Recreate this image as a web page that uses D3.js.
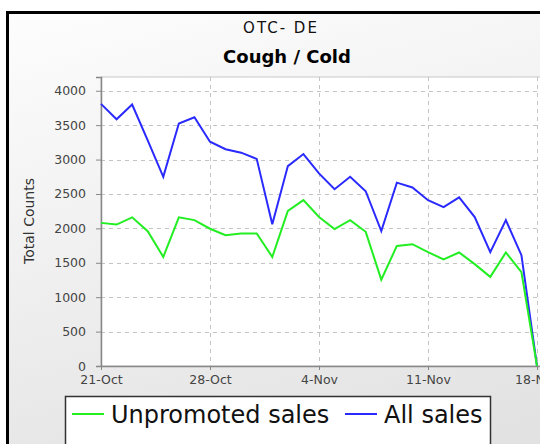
<!DOCTYPE html>
<html>
<head>
<meta charset="utf-8">
<script src="https://cdn.jsdelivr.net/npm/d3@7"></script>
<style>
  body { margin: 0; background: #fff; }
  svg { display: block; font-family: "DejaVu Sans", sans-serif; }
</style>
</head>
<body>
<div id="chart"></div>
<script>
// daily counts, 21-Oct .. 18-Nov
var dates = ["21-Oct","22-Oct","23-Oct","24-Oct","25-Oct","26-Oct","27-Oct","28-Oct","29-Oct","30-Oct","31-Oct",
  "1-Nov","2-Nov","3-Nov","4-Nov","5-Nov","6-Nov","7-Nov","8-Nov","9-Nov","10-Nov","11-Nov","12-Nov","13-Nov",
  "14-Nov","15-Nov","16-Nov","17-Nov","18-Nov"];
var unpromoted = [2080, 2055, 2160, 1960, 1585, 2160, 2120, 1995, 1900, 1925, 1925, 1585, 2255, 2410,
  2165, 1990, 2120, 1950, 1255, 1745, 1770, 1655, 1550, 1650, 1480, 1295, 1650, 1365, 0];
var allSales = [3810, 3585, 3800, 3280, 2750, 3525, 3615, 3260, 3150, 3100, 3010, 2060, 2905, 3080,
  2800, 2570, 2750, 2540, 1960, 2665, 2595, 2410, 2310, 2450, 2165, 1655, 2120, 1610, 0];
var xTicks = ["21-Oct", "28-Oct", "4-Nov", "11-Nov", "18-Nov"];
var yTicks = [0, 500, 1000, 1500, 2000, 2500, 3000, 3500, 4000];

var parse = d3.timeParse("%d-%b-%Y");
var toDate = function (s) { return parse(s + "-2009"); };

var width = 540, height = 444;
var svg = d3.select("#chart").append("svg")
  .attr("width", width).attr("height", height);

var defs = svg.append("defs");
var grad = defs.append("linearGradient").attr("id", "bg")
  .attr("x1", 0).attr("y1", 0).attr("x2", 0.3).attr("y2", 1);
grad.append("stop").attr("offset", "0%").attr("stop-color", "#fdfdfd");
grad.append("stop").attr("offset", "100%").attr("stop-color", "#e2e2e2");

// chart frame
svg.append("rect").attr("x", 7.5).attr("y", 12.5).attr("width", 600).attr("height", 500)
  .attr("fill", "url(#bg)").attr("stroke", "#000").attr("stroke-width", 3);

var plot = {left: 101, top: 77, right: 560, bottom: 366};

var x = d3.scaleTime()
  .domain([toDate(dates[0]), toDate(dates[dates.length - 1])])
  .range([101, 537]);
var y = d3.scaleLinear().domain([0, 4200]).range([plot.bottom, plot.top]);

svg.append("rect").attr("x", plot.left).attr("y", plot.top)
  .attr("width", plot.right - plot.left).attr("height", plot.bottom - plot.top)
  .attr("fill", "#fff").attr("stroke", "#c8c8c8");

// gridlines
svg.append("g").selectAll("line").data(yTicks.slice(1)).join("line")
  .attr("x1", plot.left).attr("x2", plot.right)
  .attr("y1", function (d) { return Math.round(y(d)) + 0.5; })
  .attr("y2", function (d) { return Math.round(y(d)) + 0.5; })
  .attr("stroke", "#c4c4c4").attr("stroke-dasharray", "4,4");
svg.append("g").selectAll("line").data(xTicks.slice(1)).join("line")
  .attr("x1", function (d) { return Math.round(x(toDate(d))) + 0.5; })
  .attr("x2", function (d) { return Math.round(x(toDate(d))) + 0.5; })
  .attr("y1", plot.top).attr("y2", plot.bottom)
  .attr("stroke", "#c4c4c4").attr("stroke-dasharray", "4,4");

// axes
var yAxis = svg.append("g").attr("transform", "translate(" + plot.left + ",0)")
  .call(d3.axisLeft(y).tickValues(yTicks).tickFormat(d3.format("d")).tickSize(5).tickPadding(10));
var xAxis = svg.append("g").attr("transform", "translate(0," + plot.bottom + ")")
  .call(d3.axisBottom(x).tickValues(xTicks.map(toDate)).tickFormat(d3.timeFormat("%-d-%b"))
    .tickSize(4).tickPadding(5));
[xAxis, yAxis].forEach(function (a) {
  a.select(".domain").attr("stroke", "#888").attr("stroke-width", 1.5);
  a.selectAll(".tick line").attr("stroke", "#888");
  a.selectAll("text").attr("fill", "#444").style("font-size", "12.5px")
    .style("font-family", "'DejaVu Sans', sans-serif");
});
xAxis.select(".domain").attr("d", "M" + plot.left + ",0.5H" + plot.right);

svg.append("text").attr("transform", "translate(34,221) rotate(-90)")
  .attr("text-anchor", "middle").attr("fill", "#333").style("font-size", "14px")
  .text("Total Counts");

// titles
svg.append("text").attr("x", 281).attr("y", 33).attr("text-anchor", "middle")
  .style("font-size", "15px").style("letter-spacing", "2px").attr("fill", "#111")
  .text("OTC- DE");
svg.append("text").attr("x", 287).attr("y", 63).attr("text-anchor", "middle")
  .style("font-size", "18px").style("font-weight", "bold").attr("fill", "#000")
  .text("Cough / Cold");

// lines
var line = d3.line()
  .x(function (d, i) { return x(toDate(dates[i])); })
  .y(function (d) { return y(d); });
svg.append("path").datum(allSales).attr("d", line)
  .attr("fill", "none").attr("stroke", "#2a2aff").attr("stroke-width", 2);
svg.append("path").datum(unpromoted).attr("d", line)
  .attr("fill", "none").attr("stroke", "#22ee22").attr("stroke-width", 2);

// legend
var legend = svg.append("g");
legend.append("rect").attr("x", 65.5).attr("y", 396.5).attr("width", 425).attr("height", 60)
  .attr("fill", "#fff").attr("stroke", "#333").attr("stroke-width", 1.5);
var items = [
  {name: "Unpromoted sales", color: "#22ee22", x: 72},
  {name: "All sales", color: "#2a2aff", x: 345}
];
items.forEach(function (d) {
  legend.append("line").attr("x1", d.x).attr("x2", d.x + 32).attr("y1", 414).attr("y2", 414)
    .attr("stroke", d.color).attr("stroke-width", 2);
  legend.append("text").attr("x", d.x + 39).attr("y", 423).style("font-size", "24px")
    .attr("fill", "#111").text(d.name);
});
</script>
</body>
</html>
